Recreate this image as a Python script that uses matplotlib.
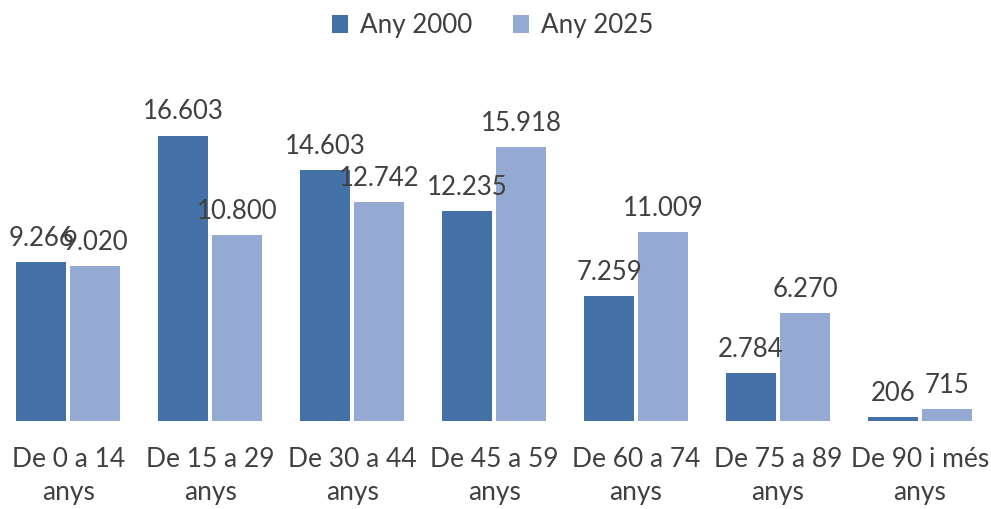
import matplotlib.pyplot as plt
import numpy as np

# Age groups and population counts
categories = ['De 0 a 14\nanys', 'De 15 a 29\nanys', 'De 30 a 44\nanys', 'De 45 a 59\nanys',
              'De 60 a 74\nanys', 'De 75 a 89\nanys', 'De 90 i més\nanys']
any_2000 = [9266, 16603, 14603, 12235, 7259, 2784, 206]
any_2025 = [9020, 10800, 12742, 15918, 11009, 6270, 715]
series_names = ['Any 2000', 'Any 2025']

col_2000 = '#4472a8'
col_2025 = '#95aad3'
text_col = '#404040'

plt.rcParams['font.family'] = ['Lato', 'DejaVu Sans']

def fmt(v):
    return '{:,}'.format(v).replace(',', '.')

fig = plt.figure(figsize=(9.91, 5.09), dpi=100)
ax = fig.add_axes([0, 1 - 421 / 509, 1, 361 / 509])

x = np.arange(len(categories))
w = 0.35
off = 0.19
b1 = ax.bar(x - off, any_2000, w, color=col_2000, label=series_names[0])
b2 = ax.bar(x + off, any_2025, w, color=col_2025, label=series_names[1])

for bars, vals in [(b1, any_2000), (b2, any_2025)]:
    for r, v in zip(bars, vals):
        ax.annotate(fmt(v), (r.get_x() + r.get_width() / 2, r.get_height()),
                    xytext=(0, 8), textcoords='offset points', ha='center', va='bottom',
                    fontsize=18.5, color=text_col)

ax.set_xlim(-0.48, 6.5)
ax.set_ylim(0, 21000)
ax.set_xticks(x)
ax.set_xticklabels(categories, fontsize=19, color=text_col, linespacing=1.38)
ax.tick_params(axis='x', length=0, pad=19)
ax.set_yticks([])
for s in ax.spines.values():
    s.set_visible(False)

fig.legend(handles=[b1, b2], loc='upper center', bbox_to_anchor=(0.497, 1.02), ncol=2,
           frameon=False, fontsize=18.7, handlelength=0.65, handleheight=0.7,
           columnspacing=1.55, handletextpad=0.45, labelcolor=text_col)

fig.savefig('out.png', dpi=100)
